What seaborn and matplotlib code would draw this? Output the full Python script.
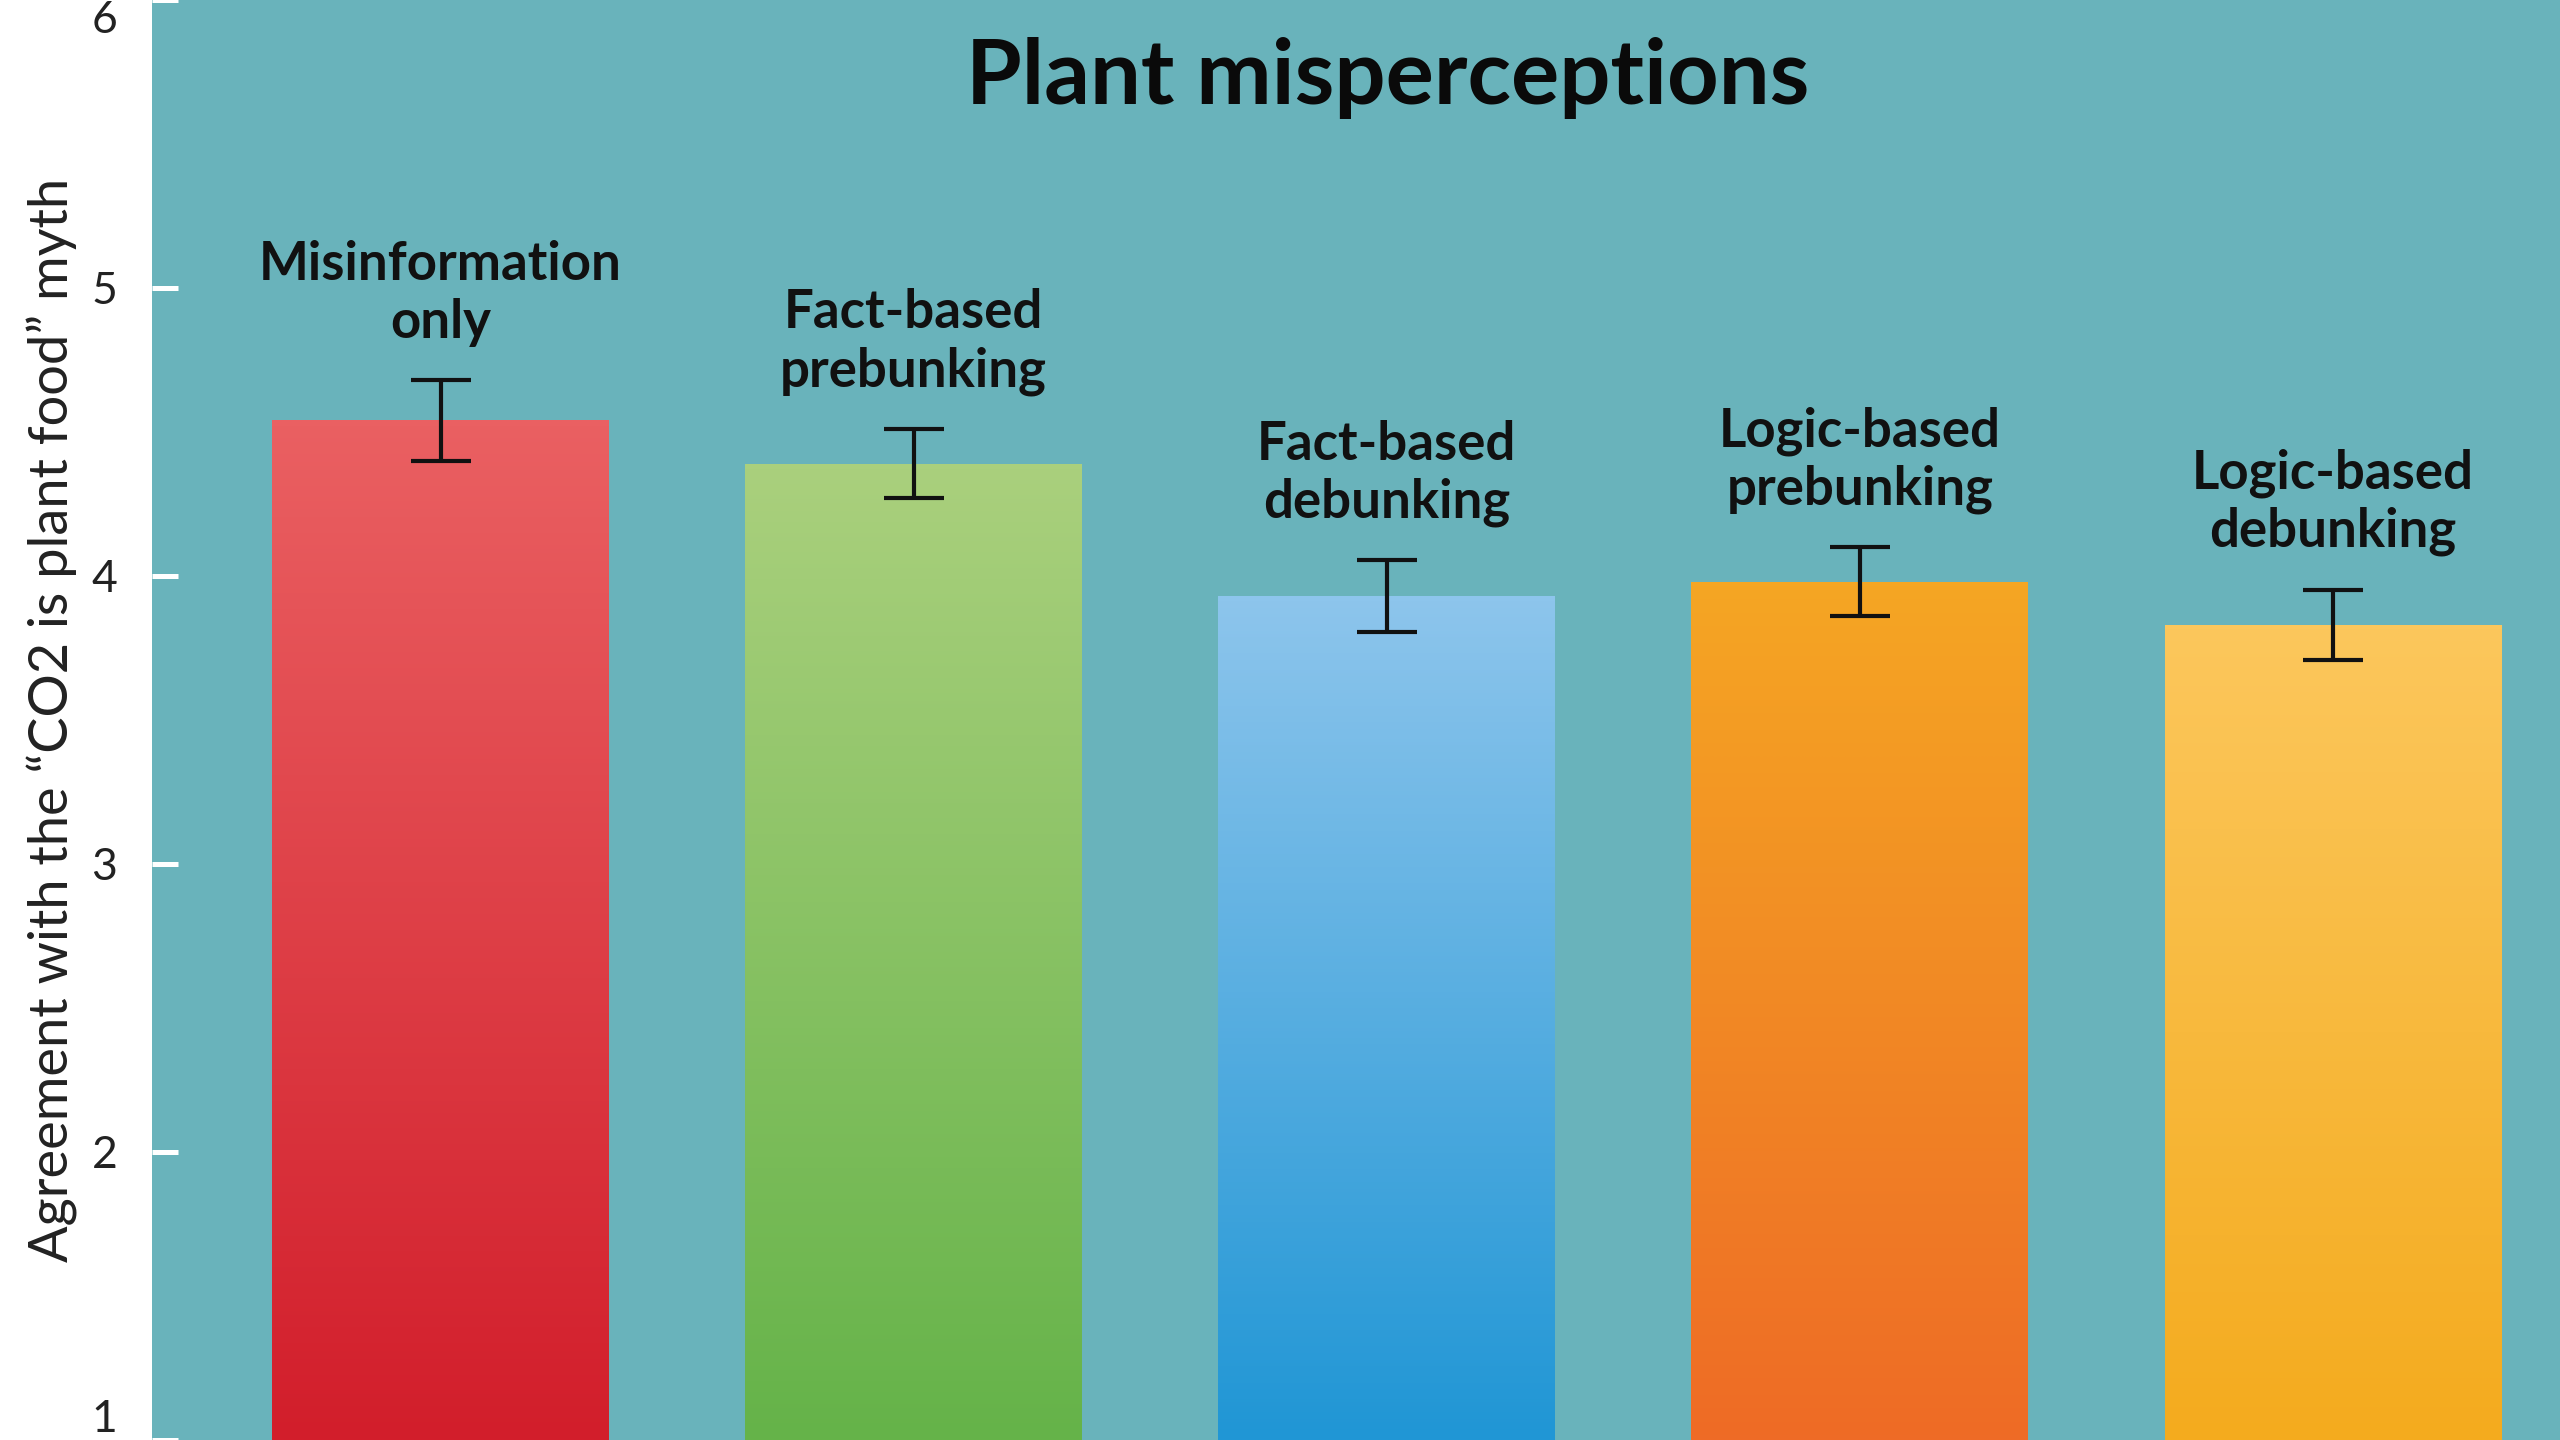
import numpy as np
import matplotlib
matplotlib.use("Agg")
import matplotlib.pyplot as plt
from matplotlib.colors import LinearSegmentedColormap
import seaborn as sns
import pandas as pd

# ---- data ----
categories = ["Misinformation\nonly", "Fact-based\nprebunking", "Fact-based\ndebunking",
              "Logic-based\nprebunking", "Logic-based\ndebunking"]
means = [4.54, 4.39, 3.93, 3.98, 3.83]
errors = [0.14, 0.12, 0.125, 0.12, 0.122]
yticks = [1, 2, 3, 4, 5, 6]
title = "Plant misperceptions"
ylabel = "Agreement with the \u201cCO2 is plant food\u201d myth"

# colours (top of bar, bottom of bar)
top_colors = ["#EA6062", "#AAD07D", "#8DC5EC", "#F5A623", "#FCC75C"]
bottom_colors = ["#D21E2B", "#65B349", "#2096D5", "#EE6B26", "#F4AB1E"]
bg = "#69B3BB"

sns.set_theme(style="white")
plt.rcParams["font.family"] = ["Lato", "DejaVu Sans"]

df = pd.DataFrame({"cat": categories, "mean": means})

fig = plt.figure(figsize=(25.6, 14.4), dpi=100, facecolor="white")
ax = fig.add_axes([152 / 2560, 0, 1 - 152 / 2560, 1])
ax.set_facecolor(bg)

sns.barplot(data=df, x="cat", y="mean", hue="cat", palette=bottom_colors,
            legend=False, width=0.712, errorbar=None, ax=ax, zorder=2,
            linewidth=0, edgecolor="none")

xlim = (-0.610, 4.480)
ylim = (1, 6)

# vertical gradient fill for each bar
for patch, ct, cb in zip(ax.patches, top_colors, bottom_colors):
    x0, w = patch.get_x(), patch.get_width()
    top = patch.get_y() + patch.get_height()
    grad = np.linspace(0, 1, 256)[:, None]
    cmap = LinearSegmentedColormap.from_list("g", [cb, ct])
    im = ax.imshow(grad, extent=[x0, x0 + w, ylim[0], top], origin="lower",
                   aspect="auto", cmap=cmap, zorder=2.1, interpolation="bilinear")
    im.set_clip_path(patch)

xs = np.arange(len(categories))
ax.errorbar(xs, means, yerr=errors, fmt="none", ecolor="#111111",
            elinewidth=3.0, capsize=21.6, capthick=3.0, zorder=4)

for x, m, e, c in zip(xs, means, errors, categories):
    ax.annotate(c, xy=(x, m + e), xytext=(0, 24), textcoords="offset points",
                ha="center", va="bottom", fontsize=38, fontweight="bold",
                color="#111111", linespacing=1.22, zorder=5)

ax.set_xlim(*xlim)
ax.set_ylim(*ylim)
ax.set_yticks(yticks)
ax.set_xticks([])
ax.set_xlabel("")
ax.tick_params(axis="y", direction="in", length=18.7, width=3.6, color="white",
               labelsize=32, labelcolor="#222222", pad=25, left=True)
for s in ax.spines.values():
    s.set_visible(False)

# edge labels kept inside the canvas
labels = ax.get_yticklabels()
labels[-1].set_va("top")
labels[0].set_va("bottom")

ax.set_ylabel(ylabel, fontsize=39, color="#222222")
ax.yaxis.label.set_va("center")
ax.yaxis.set_label_coords((52 - 152) / 2408, 0.5)

ax.set_title(title, fontsize=65, fontweight="bold", color="#0a0a0a",
             y=1 - 104 / 1440, pad=0, va="baseline")
ax.title.set_x((1388 - 152) / 2408)

fig.savefig("out.png", dpi=100, facecolor="white")
